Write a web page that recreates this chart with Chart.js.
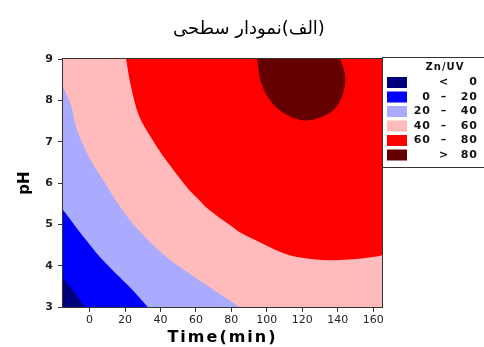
<!DOCTYPE html>
<html><head><meta charset="utf-8">
<script src="https://cdn.jsdelivr.net/npm/chart.js@4"></script>
<style>html,body{margin:0;padding:0;background:#fff}#wrap{width:484px;height:347px;position:relative}</style>
</head><body><div id="wrap"><canvas id="c"></canvas></div>
<script>
// ---- data ----
const chartTitle = '(الف)نمودار سطحی';
const xAxisTitle = 'Time(min)';
const yAxisTitle = 'pH';
const legendTitle = 'Zn/UV';
const xTicks = [0, 20, 40, 60, 80, 100, 120, 140, 160];
const yTicks = [3, 4, 5, 6, 7, 8, 9];
const xRange = [-15, 165];
const yRange = [3, 9];
const levelLow  = ['', '0', '20', '40', '60', ''];
const levelSep  = ['<', '–', '–', '–', '–', '>'];
const levelHigh = ['0', '20', '40', '60', '80', '80'];
// contour boundaries: [time, pH]
const contour0  = [[-15, 3.70], [-9, 3.38], [-3, 3.0]];
const contour20 = [[-15, 5.35], [-8, 4.95], [-2, 4.62], [5.6, 4.22], [11.2, 3.97], [18.7, 3.65], [22.5, 3.49], [32.8, 3.0]];
const contour40 = [[-15, 8.33], [-10.3, 7.85], [-7.5, 7.33], [0, 6.6], [11.2, 5.83], [14, 5.63], [24.3, 5.02], [43.1, 4.22], [61.8, 3.65], [78.7, 3.17], [84.3, 3.0]];
const contour60 = [[20.6, 9], [23.4, 8.33], [28.1, 7.6], [35.6, 7.04], [43, 6.56], [56.2, 5.83], [60.7, 5.64], [67.4, 5.35], [80.5, 4.94], [84.3, 4.82], [95.5, 4.58], [112.4, 4.26], [131, 4.14], [146, 4.15], [163, 4.23], [165, 4.25]];
const contour80 = [[94.6, 9], [96.4, 8.49], [101, 8.05], [108.6, 7.72], [119.8, 7.52], [129.2, 7.57], [138.6, 7.81], [143.3, 8.21], [144.2, 8.61], [141.4, 9]];

// ---- styles ----
const levelColors = ['#00007a', '#0000ff', '#aaaaff', '#ffbbbb', '#ff0000', '#640000'];
const FONT = '"DejaVu Sans", Verdana, sans-serif';

const [xMin, xMax] = xRange, [yMin, yMax] = yRange;
// polygon = contour (ends doubled so curve tension keeps sharp corners) + plot corners
function polygon(contour, corners) {
  const seq = [contour[0], ...contour, contour[contour.length - 1]];
  corners.forEach(c => { seq.push(c, c); });
  return seq.map(p => ({x: p[0], y: p[1]}));
}

const polygons = [
  {lvl: 0, data: polygon(contour0, [[xMin, yMin]])},
  {lvl: 1, data: polygon(contour20, [[xMin, yMin]])},
  {lvl: 2, data: polygon(contour40, [[xMin, yMin]])},
  {lvl: 5, data: polygon(contour80, [])},
  {lvl: 4, data: polygon(contour60, [[xMax, yMax]])},
  {lvl: 3, data: polygon([[xMin, yMin], [xMax, yMin]], [[xMax, yMax], [xMin, yMax]])}
];

const datasets = polygons.map(p => ({
  label: levelSep[p.lvl],
  data: p.data,
  backgroundColor: levelColors[p.lvl],
  borderColor: levelColors[p.lvl],
  borderWidth: 0,
  pointRadius: 0,
  tension: 0.35,
  fill: 'shape',
  showLine: true
}));

const titlePlugin = {
  id: 'rtlTitle',
  afterDraw(chart) {
    const ctx = chart.ctx;
    ctx.save();
    ctx.direction = 'rtl';
    ctx.font = '18px ' + FONT;
    ctx.fillStyle = '#000';
    ctx.textAlign = 'center';
    ctx.textBaseline = 'middle';
    ctx.fillText(chartTitle, 249, 29);
    ctx.restore();
  }
};

const framePlugin = {
  id: 'frame',
  afterDatasetsDraw(chart) {
    const ctx = chart.ctx, a = chart.chartArea;
    ctx.save();
    ctx.strokeStyle = '#333';
    ctx.lineWidth = 1;
    ctx.strokeRect(Math.round(a.left) - 0.5, Math.round(a.top) - 0.5, Math.round(a.right - a.left) + 1, Math.round(a.bottom - a.top) + 1);
    ctx.restore();
  }
};

const legendPlugin = {
  id: 'contourLegend',
  afterDraw(chart) {
    const ctx = chart.ctx, a = chart.chartArea;
    const x0 = Math.round(a.right), y0 = Math.round(a.top) - 1.5;
    ctx.save();
    ctx.strokeStyle = '#333'; ctx.lineWidth = 1;
    ctx.strokeRect(x0 + 0.5, y0, 120, 110);
    ctx.fillStyle = '#111';
    ctx.font = 'bold 10px ' + FONT;
    ctx.letterSpacing = '1px';
    ctx.textBaseline = 'middle';
    ctx.textAlign = 'center';
    ctx.fillText(legendTitle, x0 + 63, y0 + 10);
    ctx.font = 'bold 11px ' + FONT;
    for (let i = 0; i < levelColors.length; i++) {
      const y = y0 + 25 + i * 14.5;
      ctx.fillStyle = levelColors[i];
      ctx.fillRect(x0 + 5, y - 5.5, 20, 11);
      ctx.fillStyle = '#111';
      ctx.textAlign = 'right';
      ctx.fillText(levelLow[i], x0 + 49, y);
      ctx.textAlign = 'center';
      ctx.fillText(levelSep[i], x0 + 62, y);
      ctx.textAlign = 'right';
      ctx.fillText(levelHigh[i], x0 + 96, y);
    }
    ctx.restore();
  }
};

const spacingPlugin = {
  id: 'xTitleSpacing',
  afterLayout(chart) {
    const s = chart.scales.x;
    if (s && !s._spaced) {
      const orig = s.drawTitle;
      s.drawTitle = function () {
        const ctx = this.ctx; ctx.save(); ctx.letterSpacing = '2px'; orig.apply(this, arguments); ctx.restore();
      };
      s._spaced = true;
    }
  }
};

new Chart(document.getElementById('c'), {
  type: 'scatter',
  data: {datasets},
  plugins: [framePlugin, legendPlugin, spacingPlugin, titlePlugin],
  options: {
    responsive: true,
    maintainAspectRatio: false,
    animation: false,
    layout: {padding: {left: 10, right: 102, top: 59, bottom: 0}},
    plugins: {
      legend: {display: false},
      tooltip: {enabled: false},
      title: {display: false}
    },
    scales: {
      x: {
        type: 'linear', min: xMin, max: xMax,
        afterBuildTicks: sc => { sc.ticks = xTicks.map(v => ({value: v})); },
        afterFit: sc => { sc.height = 40; },
        grid: {display: true, drawOnChartArea: false, drawTicks: true, tickLength: 5, color: '#333'},
        border: {display: true, color: '#333', width: 1},
        ticks: {color: '#222', font: {family: FONT, size: 11}, padding: 2, maxRotation: 0},
        title: {display: true, text: xAxisTitle, color: '#000', font: {family: FONT, size: 16, weight: 'bold'}, padding: {top: 0, bottom: 0}}
      },
      y: {
        type: 'linear', min: yMin, max: yMax,
        afterBuildTicks: sc => { sc.ticks = yTicks.map(v => ({value: v})); },
        afterFit: sc => { sc.width = 53; },
        grid: {display: true, drawOnChartArea: false, drawTicks: true, tickLength: 5, color: '#333'},
        border: {display: true, color: '#333', width: 1},
        ticks: {color: '#222', font: {family: FONT, size: 11, weight: 'bold'}, padding: 5},
        title: {display: true, text: yAxisTitle, color: '#000', font: {family: FONT, size: 15, weight: 'bold'}, padding: {top: 6, bottom: 0}}
      }
    }
  }
});
</script>
</body></html>
